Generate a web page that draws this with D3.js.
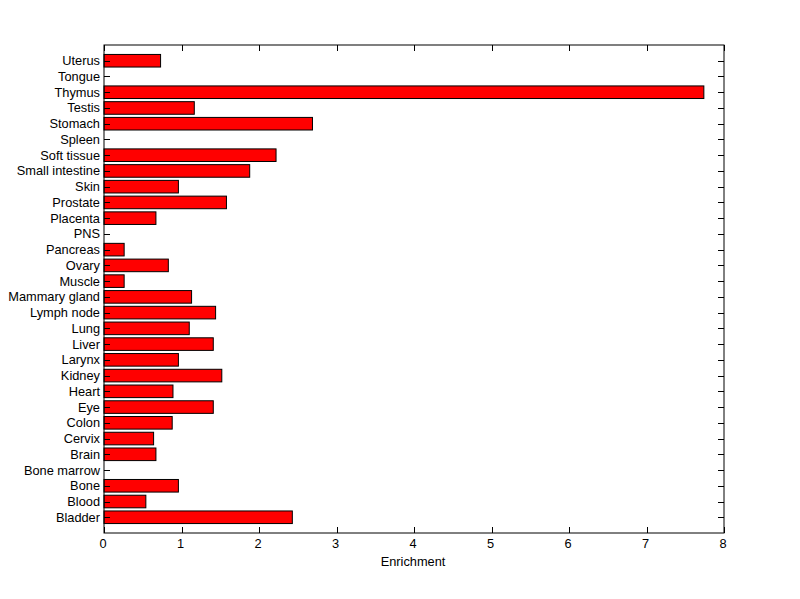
<!DOCTYPE html>
<html><head><meta charset="utf-8">
<script src="https://cdn.jsdelivr.net/npm/d3@7"></script>
<style>body{margin:0;background:#fff;} text{font-family:"Liberation Sans",Arial,sans-serif;}</style>
</head><body>
<svg id="c" width="800" height="599"></svg>
<script>
const categories = ["Bladder","Blood","Bone","Bone marrow","Brain","Cervix","Colon","Eye","Heart","Kidney","Larynx","Liver","Lung","Lymph node","Mammary gland","Muscle","Ovary","Pancreas","PNS","Placenta","Prostate","Skin","Small intestine","Soft tissue","Spleen","Stomach","Testis","Thymus","Tongue","Uterus"];
const values = [2.43,0.54,0.96,0,0.67,0.64,0.88,1.41,0.89,1.52,0.96,1.41,1.10,1.44,1.13,0.26,0.83,0.26,0,0.67,1.58,0.96,1.88,2.22,0,2.69,1.165,7.74,0,0.73];
const xTicks = [0,1,2,3,4,5,6,7,8];
const xLabel = "Enrichment";

const svg = d3.select("#c");
const L=104, R=724, T=45, B=533;
const x = d3.scaleLinear().domain([0,8]).range([L,R]);
const y = d3.scaleLinear().domain([0,31]).range([B,T]);
const bh = y(0)-y(0.8);
const fs = 12.8;

svg.append("rect").attr("width",800).attr("height",599).attr("fill","#fff");

svg.selectAll("rect.bar").data(values).join("rect")
  .attr("class","bar")
  .attr("x", x(0))
  .attr("y", (d,i)=>y(i+1)-bh/2)
  .attr("width", d=>Math.max(0,x(d)-x(0)))
  .attr("height", bh)
  .attr("fill","#ff0000").attr("stroke","#000").attr("stroke-width",1)
  .attr("display", d=>d>0?null:"none");

const tl = 6;
const g = svg.append("g").attr("stroke","#000").attr("stroke-width",1).attr("fill","none");
g.append("rect").attr("x",L).attr("y",T).attr("width",R-L).attr("height",B-T);
xTicks.forEach(v=>{
  const px = Math.round(x(v))+0.5;
  g.append("line").attr("x1",px).attr("x2",px).attr("y1",B).attr("y2",B-tl);
  g.append("line").attr("x1",px).attr("x2",px).attr("y1",T).attr("y2",T+tl);
});
categories.forEach((c,i)=>{
  const py = Math.round(y(i+1))+0.5;
  g.append("line").attr("x1",L).attr("x2",L+tl).attr("y1",py).attr("y2",py);
  g.append("line").attr("x1",R).attr("x2",R-tl).attr("y1",py).attr("y2",py);
});

svg.selectAll("text.xt").data(xTicks).join("text")
  .attr("class","xt").attr("x",d=>x(d)-1).attr("y",B+15)
  .attr("text-anchor","middle").attr("font-size",fs).attr("fill","#000").text(d=>d);
svg.selectAll("text.yt").data(categories).join("text")
  .attr("class","yt").attr("x",L-4).attr("y",(d,i)=>y(i+1)+4.5)
  .attr("text-anchor","end").attr("font-size",fs).attr("fill","#000").text(d=>d);
svg.append("text").attr("x",(L+R)/2-1).attr("y",566)
  .attr("text-anchor","middle").attr("font-size",fs).attr("fill","#000").text(xLabel);
</script>
</body></html>
